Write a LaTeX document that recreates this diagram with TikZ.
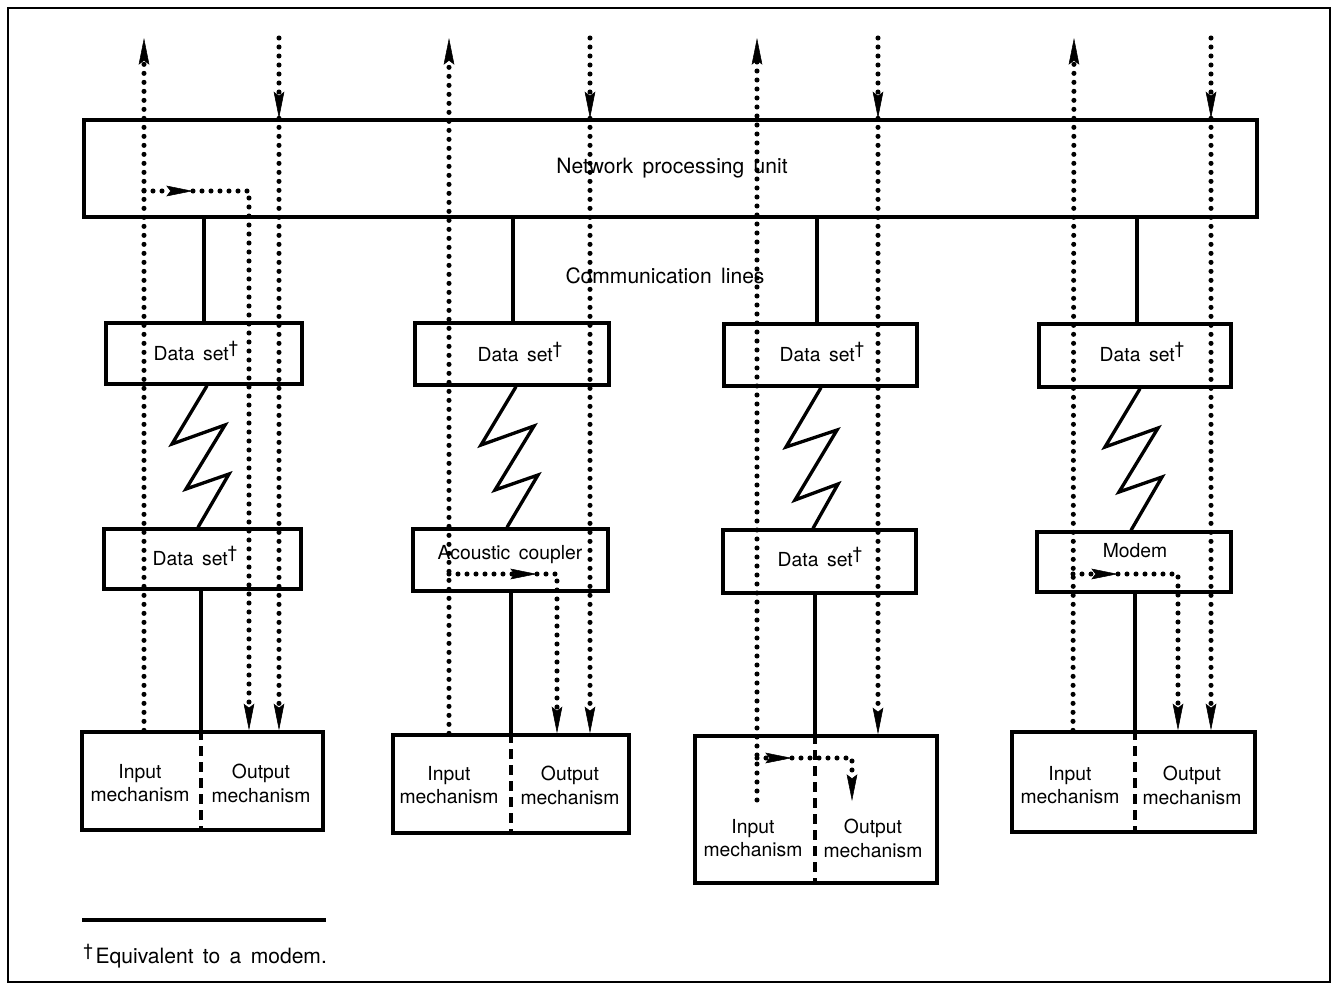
\documentclass[tikz,border=0pt]{standalone}
\usepackage{fontspec}
\setmainfont{TeX Gyre Heros}[WordSpace=1.6]
\usetikzlibrary{arrows.meta,fit}
\newcommand{\mydag}{\raisebox{0.32em}{\fontsize{13}{13}\selectfont\textdagger}}
\begin{document}
\begin{tikzpicture}[x=0.75pt,y=-0.75pt,
  box/.style={draw, line width=2.5pt, inner sep=0pt},
  frameline/.style={line width=1.5pt},
  conn/.style={line width=2.5pt},
  zig/.style={line width=2.5pt, line join=miter},
  divider/.style={line width=2.5pt, dash pattern=on 7pt off 5pt},
  dots/.style={line width=3.8pt, line cap=round, dash pattern=on 0pt off 6.75pt},
  arr/.style={-{Stealth[length=20pt, width=8pt, inset=3pt, line width=0.4pt]}},
  lbl/.style={inner sep=0pt, font=\fontsize{14.5}{17.5}\selectfont},
  biglbl/.style={inner sep=0pt, font=\fontsize{15.8}{19}\selectfont},
  mech/.style={lbl, align=center, anchor=north}
]
\useasboundingbox (0,0) rectangle (1331,990);
\draw[frameline] (8,8) rectangle (1330,982);

% boxes
\node[box, fit={(84,120) (1257,217)}] (npu) {};
\node[box, fit={(106,323) (302,384)}] (u1) {};
\node[box, fit={(415,323) (609,385)}] (u2) {};
\node[box, fit={(724,324) (917,386)}] (u3) {};
\node[box, fit={(1039,324) (1231,387)}] (u4) {};
\node[box, fit={(104,529) (301,589)}] (l1) {};
\node[box, fit={(413,529) (608,591)}] (l2) {};
\node[box, fit={(723,530) (916,593)}] (l3) {};
\node[box, fit={(1037,532) (1231,592)}] (l4) {};
\node[box, fit={(82,732) (323,830)}] (t1) {};
\node[box, fit={(393,735) (629,833)}] (t2) {};
\node[box, fit={(695,736) (937,883)}] (t3) {};
\node[box, fit={(1012,732) (1255,832)}] (t4) {};

% labels
\node[biglbl, anchor=base] (npulbl) at (672,173) {Network processing unit};
\node[biglbl, anchor=base] (comlbl) at (665,283) {Communication lines};
\node[lbl, anchor=base] (u1lbl) at (196,360) {Data set\mydag};
\node[lbl, anchor=base] (u2lbl) at (520,361) {Data set\mydag};
\node[lbl, anchor=base] (u3lbl) at (822,361) {Data set\mydag};
\node[lbl, anchor=base] (u4lbl) at (1142,361) {Data set\mydag};
\node[lbl, anchor=base] (l1lbl) at (195,565) {Data set\mydag};
\node[lbl, anchor=base] (l2lbl) at (510,559) {Acoustic coupler};
\node[lbl, anchor=base] (l3lbl) at (820,566) {Data set\mydag};
\node[lbl, anchor=base] (l4lbl) at (1135,557) {Modem};

\node[mech] (t1in) at (140,764) {Input\\mechanism};
\node[mech] (t1out) at (261,764) {Output\\mechanism};
\node[mech] (t2in) at (449,766) {Input\\mechanism};
\node[mech] (t2out) at (570,766) {Output\\mechanism};
\node[mech] (t3in) at (753,819) {Input\\mechanism};
\node[mech] (t3out) at (873,819) {Output\\mechanism};
\node[mech] (t4in) at (1070,766) {Input\\mechanism};
\node[mech] (t4out) at (1192,766) {Output\\mechanism};

% footnote
\draw[conn] (82,920) -- (326,920);
\node[biglbl, anchor=base west] (foot) at (83,963) {\mydag\hspace{2pt}Equivalent to a modem.};

% solid communication lines
\draw[conn] (204,0 |- npu.south) -- (204,0 |- u1.north);
\draw[conn] (513,0 |- npu.south) -- (513,0 |- u2.north);
\draw[conn] (817,0 |- npu.south) -- (817,0 |- u3.north);
\draw[conn] (1137,0 |- npu.south) -- (1137,0 |- u4.north);

% zigzags
\draw[zig] (207,0 |- u1.south) -- (172,444) -- (225,425) -- (186,489) -- (229,474) -- (198,0 |- l1.north);
\draw[zig] (516,0 |- u2.south) -- (481,445) -- (534,426) -- (495,490) -- (538,475) -- (507,0 |- l2.north);
\draw[zig] (821,0 |- u3.south) -- (786,447) -- (837,430) -- (795,500) -- (838,484) -- (813,0 |- l3.north);
\draw[zig] (1140,0 |- u4.south) -- (1105,447) -- (1158,428) -- (1119,492) -- (1162,477) -- (1131,0 |- l4.north);

% lower lines and dashed dividers
\draw[conn] (201,0 |- l1.south) -- (201,0 |- t1.north);
\draw[divider] (201,0 |- t1.north) -- (201,0 |- t1.south);
\draw[conn] (511,0 |- l2.south) -- (511,0 |- t2.north);
\draw[divider] (511,0 |- t2.north) -- (511,0 |- t2.south);
\draw[conn] (815,0 |- l3.south) -- (815,0 |- t3.north);
\draw[divider] (815,0 |- t3.north) -- (815,0 |- t3.south);
\draw[conn] (1135,0 |- l4.south) -- (1135,0 |- t4.north);
\draw[divider] (1135,0 |- t4.north) -- (1135,0 |- t4.south);

% free ends
\coordinate (in1) at (144,38);  \coordinate (out1) at (279,38);
\coordinate (in2) at (449,38);  \coordinate (out2) at (590,38);
\coordinate (in3) at (757,38);  \coordinate (out3) at (878,38);
\coordinate (in4) at (1074,38); \coordinate (out4) at (1211,38);

% column 1
\draw[dots, arr] (144,0 |- t1.north) -- (in1);
\draw[dots, arr] (out1) -- (279,0 |- npu.north);
\draw[dots, arr] (279,0 |- npu.north) -- (279,0 |- t1.north);
\coordinate (lp1a) at (144,191); \coordinate (lp1b) at (193,191);
\draw[dots, arr] (lp1a) -- (lp1b);
\draw[dots, arr] (lp1b) -- (249,191) -- (249,0 |- t1.north);

% column 2
\draw[dots, arr] (449,0 |- t2.north) -- (in2);
\draw[dots, arr] (out2) -- (590,0 |- npu.north);
\draw[dots, arr] (590,0 |- npu.north) -- (590,0 |- t2.north);
\coordinate (lp2a) at (449,574); \coordinate (lp2b) at (537,574);
\draw[dots, arr] (lp2a) -- (lp2b);
\draw[dots, arr] (lp2b) -- (557,574) -- (557,0 |- t2.north);

% column 3
\coordinate (in3s) at (757,800);
\draw[dots, arr] (in3s) -- (in3);
\draw[dots, arr] (out3) -- (878,0 |- npu.north);
\draw[dots, arr] (878,0 |- npu.north) -- (878,0 |- t3.north);
\coordinate (lp3a) at (757,758); \coordinate (lp3b) at (792,758);
\draw[dots, arr] (lp3a) -- (lp3b);
\coordinate (lp3e) at (852,801);
\draw[dots, arr] (lp3b) -- (852,758) -- (lp3e);

% column 4
\draw[dots, arr] (1073,0 |- t4.north) -- (in4);
\draw[dots, arr] (out4) -- (1211,0 |- npu.north);
\draw[dots, arr] (1211,0 |- npu.north) -- (1211,0 |- t4.north);
\coordinate (lp4a) at (1073,574); \coordinate (lp4b) at (1118,574);
\draw[dots, arr] (lp4a) -- (lp4b);
\draw[dots, arr] (lp4b) -- (1178,574) -- (1178,0 |- t4.north);
\end{tikzpicture}
\end{document}
